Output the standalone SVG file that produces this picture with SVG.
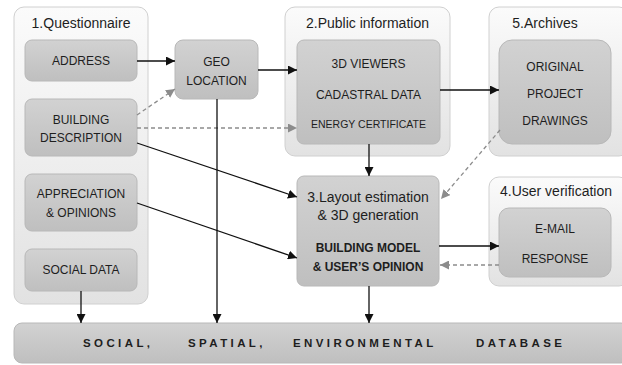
<svg xmlns="http://www.w3.org/2000/svg" width="622" height="365" viewBox="0 0 622 365">
  <defs>
    <linearGradient id="gOuter" x1="0" y1="0" x2="0" y2="1">
      <stop offset="0" stop-color="#fbfbfb"/>
      <stop offset="1" stop-color="#e2e2e2"/>
    </linearGradient>
    <linearGradient id="gInner" x1="0" y1="0" x2="0" y2="1">
      <stop offset="0" stop-color="#d2d2d2"/>
      <stop offset="1" stop-color="#bfbfbf"/>
    </linearGradient>
    <marker id="ah" viewBox="0 0 10 10" refX="10" refY="5" markerWidth="9" markerHeight="9" markerUnits="userSpaceOnUse" orient="auto">
      <path d="M0,0 L10,5 L0,10 z" fill="#111"/>
    </marker>
    <marker id="ahg" viewBox="0 0 10 10" refX="10" refY="5" markerWidth="9" markerHeight="9" markerUnits="userSpaceOnUse" orient="auto">
      <path d="M0,0 L10,5 L0,10 z" fill="#8c8c8c"/>
    </marker>
  </defs>
  <style>
    .outer { fill: url(#gOuter); stroke: #d0d0d0; stroke-width: 1; }
    .inner { fill: url(#gInner); stroke: #b8b8b8; stroke-width: 1; }
    text { font-family: "Liberation Sans", Arial, sans-serif; fill: #1e1e1e; text-anchor: middle; }
    .title { font-size: 14px; }
    .lbl { font-size: 12px; }
    .small { font-size: 10.5px; }
    .bold { font-size: 12px; font-weight: bold; }
    .db { font-size: 11.5px; font-weight: bold; letter-spacing: 3.4px; text-anchor: start; }
    .solid { stroke: #111; stroke-width: 1.3; fill: none; marker-end: url(#ah); }
    .line { stroke: #111; stroke-width: 1.3; fill: none; }
    .dash { stroke: #8c8c8c; stroke-width: 1.3; fill: none; stroke-dasharray: 4 3; marker-end: url(#ahg); }
  </style>

  <!-- 1. Questionnaire -->
  <g id="questionnaire">
    <rect class="outer" x="14" y="7" width="134" height="297" rx="10"/>
    <text class="title" x="81" y="28">1.Questionnaire</text>
  </g>
  <g id="address">
    <rect class="inner" x="25" y="40" width="112" height="41" rx="7"/>
    <text class="lbl" x="81" y="65">ADDRESS</text>
  </g>
  <g id="building-description">
    <rect class="inner" x="25" y="99" width="112" height="57" rx="7"/>
    <text class="lbl" x="81" y="124">BUILDING</text>
    <text class="lbl" x="81" y="142">DESCRIPTION</text>
  </g>
  <g id="appreciation">
    <rect class="inner" x="25" y="174" width="112" height="57" rx="7"/>
    <text class="lbl" x="81" y="198">APPRECIATION</text>
    <text class="lbl" x="81" y="217">&amp; OPINIONS</text>
  </g>
  <g id="social-data">
    <rect class="inner" x="25" y="249" width="112" height="42" rx="7"/>
    <text class="lbl" x="81" y="274">SOCIAL DATA</text>
  </g>

  <!-- Geo location -->
  <g id="geo-location">
    <rect class="inner" x="175" y="40" width="83" height="59" rx="8"/>
    <text class="lbl" x="216.5" y="66">GEO</text>
    <text class="lbl" x="216.5" y="85">LOCATION</text>
  </g>

  <!-- 2. Public information -->
  <g id="public-information">
    <rect class="outer" x="285" y="7" width="165" height="149" rx="10"/>
    <text class="title" x="367.5" y="28">2.Public information</text>
    <rect class="inner" x="297" y="40" width="143" height="104" rx="7"/>
    <text class="lbl" x="368.5" y="68">3D VIEWERS</text>
    <text class="lbl" x="368.5" y="99">CADASTRAL DATA</text>
    <text class="small" x="368.5" y="128">ENERGY CERTIFICATE</text>
  </g>

  <!-- 5. Archives -->
  <g id="archives">
    <rect class="outer" x="489" y="7" width="140" height="149" rx="10"/>
    <text class="title" x="545" y="28">5.Archives</text>
    <rect class="inner" x="499" y="40" width="112" height="104" rx="13"/>
    <text class="lbl" x="555" y="71">ORIGINAL</text>
    <text class="lbl" x="555" y="98">PROJECT</text>
    <text class="lbl" x="555" y="125">DRAWINGS</text>
  </g>

  <!-- 3. Layout estimation -->
  <g id="layout-estimation">
    <rect class="inner" x="297" y="176" width="142" height="110" rx="7"/>
    <text class="title" x="368" y="202">3.Layout estimation</text>
    <text class="title" x="368" y="220">&amp; 3D generation</text>
    <text class="bold" x="368" y="252">BUILDING MODEL</text>
    <text class="bold" x="368" y="271">&amp; USER’S OPINION</text>
  </g>

  <!-- 4. User verification -->
  <g id="user-verification">
    <rect class="outer" x="489" y="177" width="140" height="109" rx="10"/>
    <text class="title" x="556" y="196">4.User verification</text>
    <rect class="inner" x="499" y="208" width="112" height="69" rx="10"/>
    <text class="lbl" x="555" y="233">E-MAIL</text>
    <text class="lbl" x="555" y="263">RESPONSE</text>
  </g>

  <!-- Database -->
  <g id="database">
    <rect class="inner" x="14" y="323" width="615" height="40" rx="8"/>
    <text class="db" x="83" y="347">SOCIAL,</text>
    <text class="db" x="188" y="347">SPATIAL,</text>
    <text class="db" x="293" y="347">ENVIRONMENTAL</text>
    <text class="db" x="476" y="347">DATABASE</text>
  </g>

  <!-- Connectors -->
  <g id="connectors">
    <line class="solid" x1="137" y1="61" x2="175" y2="61"/>
    <line class="solid" x1="258" y1="70" x2="297" y2="70"/>
    <line class="dash" x1="137" y1="115" x2="175" y2="89"/>
    <line class="dash" x1="137" y1="128" x2="297" y2="128"/>
    <line class="solid" x1="137" y1="143" x2="297" y2="197"/>
    <line class="solid" x1="137" y1="203" x2="297" y2="258"/>
    <line class="solid" x1="217" y1="99" x2="217" y2="323"/>
    <line class="solid" x1="81" y1="291" x2="81" y2="323"/>
    <line class="solid" x1="369" y1="144" x2="369" y2="176"/>
    <line class="solid" x1="440" y1="90" x2="499" y2="90"/>
    <line class="dash" x1="500" y1="130" x2="441" y2="199"/>
    <line class="solid" x1="439" y1="246" x2="499" y2="246"/>
    <line class="dash" x1="499" y1="265" x2="440" y2="265"/>
    <line class="solid" x1="369" y1="286" x2="369" y2="323"/>
  </g>
</svg>
